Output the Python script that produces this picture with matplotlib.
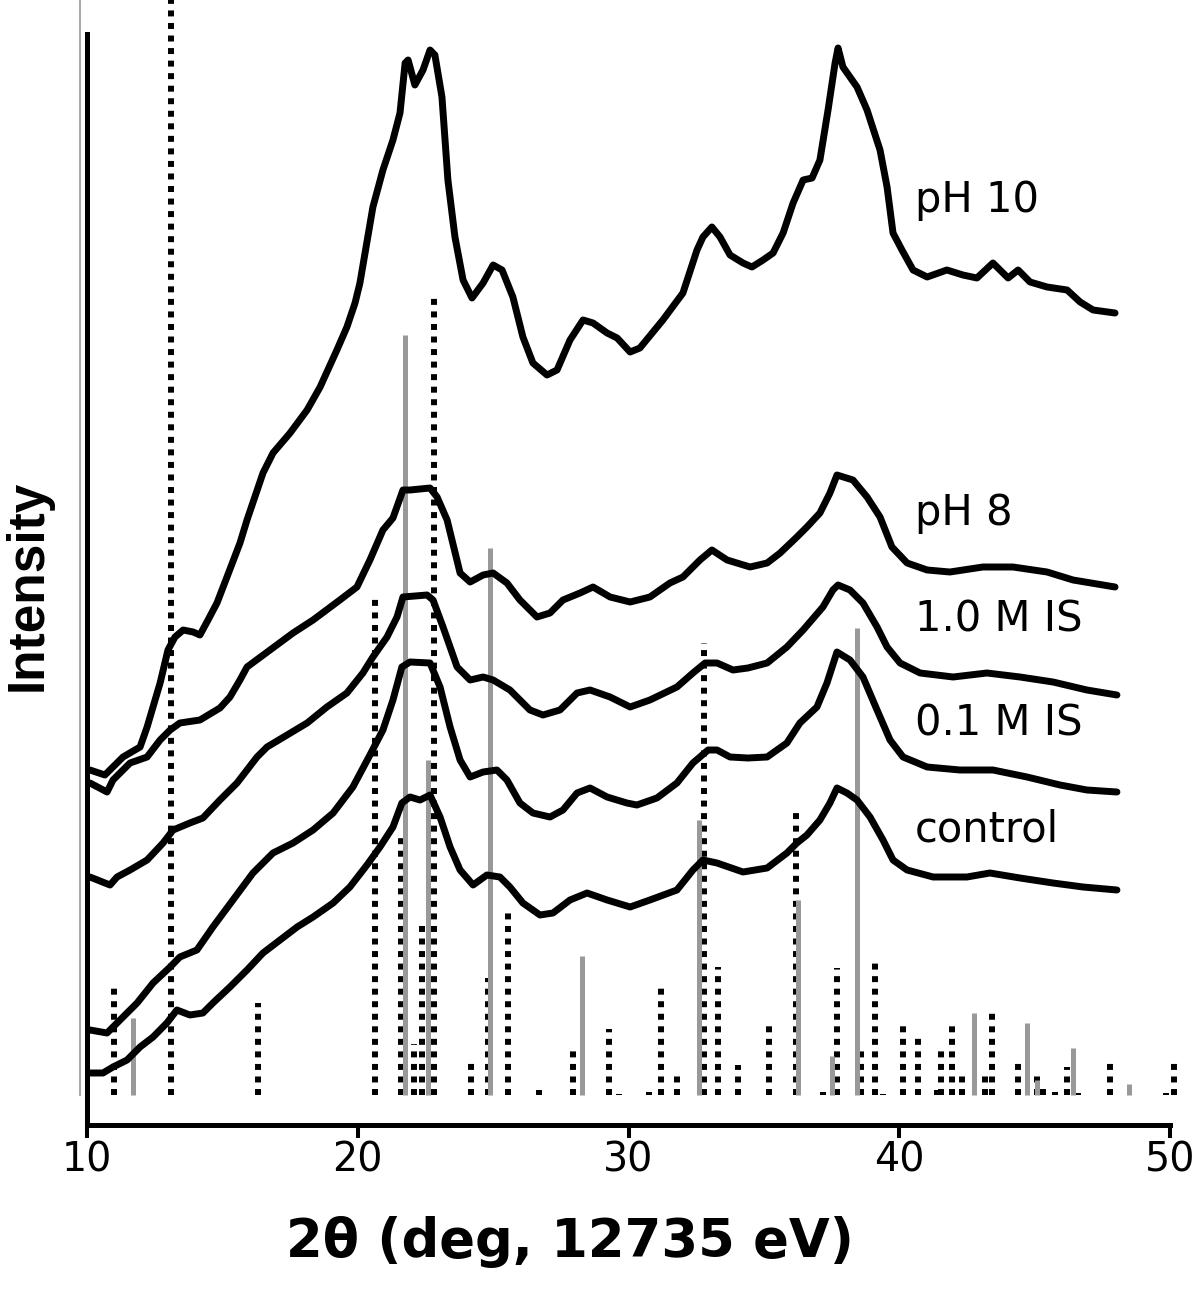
import matplotlib
matplotlib.use("Agg")
import matplotlib.pyplot as plt

plt.rcParams['font.family'] = ['DejaVu Sans']

# --- XRD patterns (2theta in deg, intensity in arbitrary offset units) ---
ph10_x = [10.11, 10.66, 11.33, 11.96, 12.22, 12.70, 12.99, 13.25, 13.55, 13.92, 14.17, 14.47, 14.80,
          15.17, 15.65, 15.91, 16.50, 16.87, 17.50, 18.13, 18.61, 19.23, 19.60, 19.90, 20.08, 20.56,
          20.93, 21.30, 21.56, 21.75, 21.86, 22.11, 22.41, 22.67, 22.85, 23.11, 23.33, 23.59, 23.89,
          24.22, 24.63, 25.00, 25.33, 25.73, 26.10, 26.47, 26.99, 27.36, 27.84, 28.32, 28.69, 29.21,
          29.58, 30.06, 30.42, 31.27, 32.01, 32.53, 32.75, 33.08, 33.38, 33.75, 34.23, 34.56, 34.97,
          35.34, 35.71, 36.08, 36.45, 36.78, 37.07, 37.37, 37.63, 37.74, 37.92, 38.44, 38.81, 39.29,
          39.55, 39.77, 40.10, 40.51, 41.03, 41.76, 42.35, 42.87, 43.46, 44.02, 44.39, 44.83, 45.46,
          46.20, 46.68, 47.16, 47.97]
ph10_y = [355, 350, 368, 378, 398, 442, 475, 488, 495, 493, 490, 505, 522,
          548, 582, 605, 652, 672, 692, 715, 738, 775, 798, 822, 842, 918,
          955, 985, 1012, 1062, 1065, 1040, 1055, 1075, 1070, 1028, 945, 888, 845,
          827, 842, 860, 855, 828, 788, 762, 750, 755, 785, 805, 802, 792,
          787, 773, 777, 805, 832, 875, 888, 898, 888, 870, 862, 858, 865,
          872, 892, 922, 945, 947, 965, 1015, 1062, 1077, 1058, 1038, 1015, 975,
          938, 892, 875, 855, 848, 855, 850, 847, 862, 847, 855, 843, 838,
          835, 823, 815, 812]

ph8_x = [10.11, 10.74, 10.96, 11.59, 12.22, 12.70, 13.07, 13.43, 14.17, 14.91, 15.28, 15.65, 15.91,
         16.76, 17.61, 18.35, 19.34, 19.97, 20.45, 20.93, 21.30, 21.67, 21.93, 22.67, 22.93, 23.30,
         23.78, 24.15, 24.63, 25.00, 25.51, 25.99, 26.62, 27.10, 27.58, 28.21, 28.69, 29.32, 30.06,
         30.79, 31.53, 32.01, 32.64, 33.08, 33.64, 34.49, 35.12, 35.60, 36.22, 36.59, 37.07, 37.44,
         37.70, 38.29, 38.81, 39.29, 39.73, 40.29, 41.03, 41.87, 43.09, 44.20, 45.46, 46.42, 47.97]
ph8_y = [342, 333, 345, 362, 368, 385, 395, 402, 405, 417, 428, 445, 458,
         475, 492, 505, 525, 538, 565, 595, 607, 635, 635, 637, 628, 605,
         552, 543, 550, 552, 542, 525, 508, 512, 525, 532, 538, 528, 523,
         528, 542, 548, 565, 575, 565, 558, 562, 572, 588, 598, 612, 632,
         650, 645, 628, 608, 578, 562, 555, 553, 558, 558, 553, 545, 538]

is10_x = [10.11, 10.85, 11.11, 11.59, 12.22, 12.81, 13.18, 13.80, 14.28, 14.91, 15.54, 16.28, 16.65,
          17.39, 18.13, 18.86, 19.60, 20.19, 20.56, 21.08, 21.45, 21.67, 22.56, 22.78, 23.15, 23.67,
          24.15, 24.63, 25.00, 25.62, 26.36, 26.84, 27.47, 28.10, 28.58, 29.32, 30.06, 30.79, 31.79,
          32.38, 32.83, 33.27, 33.86, 34.41, 35.12, 35.85, 36.45, 37.18, 37.55, 37.74, 38.18, 38.66,
          39.18, 39.55, 40.03, 40.77, 41.99, 43.24, 44.46, 45.68, 46.93, 48.04]
is10_y = [248, 240, 248, 255, 265, 282, 295, 302, 307, 325, 342, 368, 378,
          390, 402, 418, 432, 452, 468, 488, 508, 528, 530, 525, 498, 458,
          445, 448, 445, 435, 415, 410, 415, 432, 435, 428, 418, 425, 438,
          452, 462, 462, 455, 457, 462, 478, 495, 518, 535, 540, 535, 522,
          498, 478, 462, 452, 448, 452, 448, 443, 435, 430]

is01_x = [10.11, 10.74, 11.22, 11.85, 12.44, 13.07, 13.43, 14.06, 14.65, 15.39, 16.13, 16.87, 17.61,
          18.35, 19.09, 19.82, 20.45, 20.93, 21.30, 21.63, 21.93, 22.67, 23.04, 23.41, 23.78, 24.15,
          24.63, 25.14, 25.51, 25.99, 26.47, 27.10, 27.58, 28.10, 28.58, 29.21, 29.94, 30.31, 31.05,
          31.79, 32.38, 32.94, 33.27, 33.75, 34.41, 35.12, 35.85, 36.33, 36.96, 37.33, 37.70, 38.18,
          38.66, 39.18, 39.66, 40.14, 41.03, 42.24, 43.46, 44.72, 45.94, 46.93, 48.04]
is01_y = [95, 92, 105, 122, 142, 158, 168, 175, 198, 225, 252, 272, 282,
          295, 312, 338, 370, 395, 425, 458, 463, 462, 438, 398, 365, 348,
          353, 355, 345, 322, 312, 308, 315, 332, 337, 328, 322, 320, 327,
          342, 362, 375, 375, 368, 367, 368, 382, 402, 418, 442, 473, 465,
          448, 415, 385, 368, 358, 355, 355, 348, 340, 335, 333]

ctrl_x = [10.11, 10.59, 10.96, 11.48, 11.96, 12.44, 12.95, 13.32, 13.80, 14.28, 14.65, 15.28, 15.91,
          16.50, 17.13, 17.76, 18.35, 19.09, 19.71, 20.34, 20.82, 21.30, 21.63, 21.93, 22.30, 22.67,
          23.04, 23.41, 23.78, 24.26, 24.77, 25.25, 25.62, 26.10, 26.73, 27.21, 27.84, 28.47, 29.21,
          30.06, 30.79, 31.79, 32.38, 32.75, 33.27, 34.23, 35.12, 35.85, 36.22, 36.59, 37.07, 37.44,
          37.70, 38.07, 38.44, 38.92, 39.40, 39.77, 40.29, 41.25, 42.50, 43.35, 44.46, 45.68, 46.79,
          48.04]
ctrl_y = [52, 52, 58, 65, 78, 88, 102, 115, 110, 112, 122, 138, 155,
          172, 185, 198, 208, 222, 238, 260, 278, 298, 322, 328, 325, 330,
          308, 278, 255, 240, 250, 248, 238, 222, 210, 212, 225, 232, 225,
          218, 225, 235, 255, 265, 262, 253, 257, 272, 282, 290, 305, 322,
          337, 332, 325, 308, 285, 265, 255, 248, 248, 252, 247, 242, 238,
          235]

curves = [(ph10_x, ph10_y), (ph8_x, ph8_y), (is10_x, is10_y), (is01_x, is01_y), (ctrl_x, ctrl_y)]
curve_labels = ['pH 10', 'pH 8', '1.0 M IS', '0.1 M IS', 'control']
label_y = [913, 600, 494, 390, 283]

# --- reference stick patterns (baseline at 30) ---
stick_base = 30
dot_pos = [11.0, 13.1, 16.3, 20.64, 21.6, 22.08, 22.37, 22.8, 24.18, 24.8, 25.55, 26.7, 27.95,
           29.28, 29.65, 30.76, 31.2, 31.8, 32.8, 33.3, 34.05, 35.2, 36.2, 37.2, 37.7, 38.6,
           39.1, 39.4, 40.14, 40.7, 41.4, 41.55, 41.95, 42.3, 43.17, 43.43, 44.4, 45.1, 45.3,
           45.75, 46.2, 46.6, 47.8, 49.85, 50.15]
dot_top = [137, 1125, 122, 530, 292, 81, 205, 828, 62, 147, 213, 35, 79,
           96, 31, 33, 137, 53, 482, 158, 60, 101, 318, 33, 157, 78,
           167, 31, 101, 88, 35, 79, 99, 50, 49, 117, 63, 53, 37,
           33, 58, 32, 67, 32, 63]
gray_pos = [11.7, 21.75, 22.6, 24.9, 28.3, 32.6, 36.25, 37.5, 38.45, 42.77, 44.7, 45.1, 46.43, 48.5]
gray_top = [107, 790, 365, 577, 169, 305, 225, 69, 497, 112, 102, 45, 77, 41]

fig = plt.figure(figsize=(12, 12.91), dpi=100)
ax = fig.add_axes([87 / 1200, 166 / 1291, 1083 / 1200, 1125 / 1291])

for x, top in zip(dot_pos, dot_top):
    ax.plot([x, x], [stick_base, top], color='black', lw=4.3, ls=(0, (1, 1.1)),
            dash_capstyle='butt', zorder=1, clip_on=(x <= 50))
for x, top in zip(gray_pos, gray_top):
    ax.plot([x, x], [stick_base, top], color='#999999', lw=3.6, solid_capstyle='butt', zorder=2)
# faint gray line just left of the axis
ax.plot([9.74, 9.74], [stick_base, 1125], color='#aaaaaa', lw=1.5, clip_on=False, zorder=0)

for (x, y), lab, ly in zip(curves, curve_labels, label_y):
    ax.plot(x, y, color='black', lw=5, solid_joinstyle='round', solid_capstyle='round', zorder=3)
    ax.text(40.58, ly, lab, fontsize=30, va='baseline', ha='left')

ax.set_xlim(10, 50)
ax.set_ylim(0, 1125)
ax.set_xticks([10, 20, 30, 40, 50])
ax.set_yticks([])
ax.spines['top'].set_visible(False)
ax.spines['right'].set_visible(False)
for s in ('left', 'bottom'):
    ax.spines[s].set_linewidth(3.6)
ax.spines['left'].set_bounds(0, 1091)
ax.tick_params(axis='x', direction='out', length=9.5, width=2.9, labelsize=28.5, pad=2)

ax.set_xlabel('2θ (deg, 12735 eV)', fontsize=38, fontweight='bold')
ax.xaxis.set_label_coords(0.446, -0.081)
ax.set_ylabel('Intensity', fontsize=37, fontweight='bold', va='center',
              family=['Liberation Sans', 'DejaVu Sans'])
ax.yaxis.set_label_coords(-0.0545, 0.48)

fig.savefig('out.png', dpi=100)
